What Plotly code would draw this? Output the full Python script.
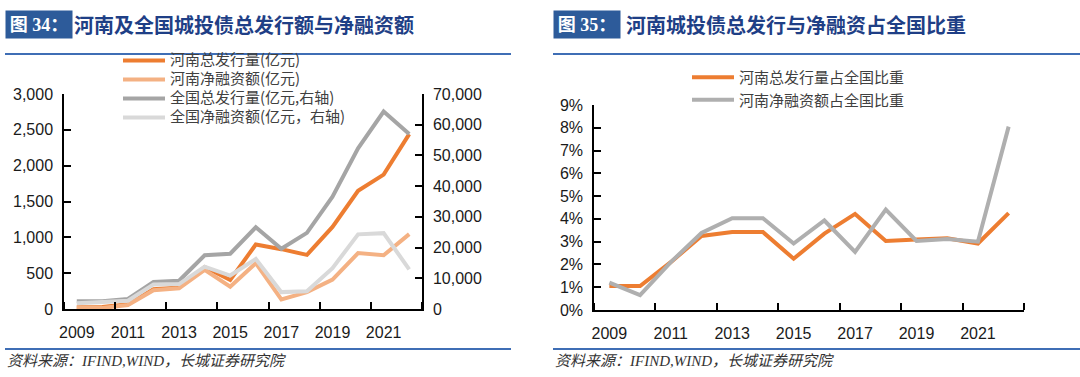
import plotly.graph_objects as go

years = list(range(2009, 2023))
xtick_years = [2009, 2011, 2013, 2015, 2017, 2019, 2021]

# 图34 (亿元)
henan_total = [25, 27, 65, 275, 300, 585, 405, 900, 835, 755, 1145, 1650, 1875, 2440]
henan_net = [22, 15, 55, 262, 290, 545, 310, 640, 135, 235, 410, 780, 750, 1045]
national_total = [2500, 2500, 3250, 8800, 9200, 17500, 18000, 26600, 19600, 24800, 36600, 52300, 64300, 57000]
national_net = [1900, 2300, 2700, 8000, 8100, 13800, 10900, 16300, 5500, 5800, 13300, 24300, 24700, 12900]

# 图35 (%)
henan_total_share = [1.05, 1.05, 2.1, 3.25, 3.42, 3.42, 2.25, 3.35, 4.22, 3.03, 3.1, 3.15, 2.92, 4.25]
henan_net_share = [1.2, 0.65, 2.1, 3.38, 4.03, 4.03, 2.92, 3.93, 2.55, 4.41, 3.03, 3.12, 3.0, 8.05]

W, H = 1080, 377
def px(x):
    return x / W
def py(y):
    return 1 - y / H

ORANGE = "#ED7D31"
PEACH = "#F4B183"
GRAY = "#A5A5A5"
LGRAY = "#D9D9D9"
TICKFONT = dict(family="Liberation Sans, Arial, sans-serif", size=16, color="#1a1a1a")

def leg(t, size):
    return f'<span style="font-size:{size}px">{t}</span>'

fig = go.Figure()
fig.add_trace(go.Scatter(x=years, y=henan_total, name=leg("河南总发行量(亿元)", 15), mode="lines",
                         line=dict(color=ORANGE, width=4), xaxis="x", yaxis="y", legend="legend"))
fig.add_trace(go.Scatter(x=years, y=henan_net, name=leg("河南净融资额(亿元)", 15), mode="lines",
                         line=dict(color=PEACH, width=4), xaxis="x", yaxis="y", legend="legend"))
fig.add_trace(go.Scatter(x=years, y=national_total, name=leg("全国总发行量(亿元,右轴)", 15), mode="lines",
                         line=dict(color=GRAY, width=4), xaxis="x", yaxis="y2", legend="legend"))
fig.add_trace(go.Scatter(x=years, y=national_net, name=leg("全国净融资额(亿元，右轴)", 15), mode="lines",
                         line=dict(color=LGRAY, width=4), xaxis="x", yaxis="y2", legend="legend"))

fig.add_trace(go.Scatter(x=years, y=henan_total_share, name="河南总发行量占全国比重", mode="lines",
                         line=dict(color=ORANGE, width=4), xaxis="x2", yaxis="y3", legend="legend2"))
fig.add_trace(go.Scatter(x=years, y=henan_net_share, name="河南净融资额占全国比重", mode="lines",
                         line=dict(color="#AFAFAF", width=4), xaxis="x2", yaxis="y3", legend="legend2"))

xcommon = dict(range=[2008.5, 2022.5], tickmode="array", tickvals=xtick_years,
               ticktext=[str(v) for v in xtick_years], ticks="", showgrid=False, zeroline=False,
               showline=True, linecolor="black", linewidth=1.5, tickfont=TICKFONT,
               ticklabelstandoff=8, automargin=False,
               minor=dict(ticks="inside", tick0=2008.5, dtick=2, ticklen=7, tickwidth=1.5,
                          tickcolor="black", showgrid=False))
ycommon = dict(showgrid=False, zeroline=False, showline=True, linecolor="black", linewidth=1.5,
               ticks="inside", ticklen=7, tickwidth=1.5, tickcolor="black", tickfont=TICKFONT,
               tickformat=",", ticklabelstandoff=6, automargin=False)

fig.update_layout(
    template="none",
    width=W, height=H, autosize=False,
    margin=dict(l=0, r=0, t=0, b=0, pad=0),
    paper_bgcolor="white", plot_bgcolor="white",
    xaxis=dict(domain=[px(64), px(422)], anchor="y", **xcommon),
    yaxis=dict(domain=[py(309), py(94)], range=[0, 3000], dtick=500, anchor="x", **ycommon),
    yaxis2=dict(overlaying="y", side="right", anchor="x", range=[0, 70000], dtick=10000, **ycommon),
    xaxis2=dict(domain=[px(594), px(1024)], anchor="y3", **xcommon),
    yaxis3=dict(domain=[py(310), py(105)], range=[0, 9], dtick=1, ticksuffix="%", anchor="x2",
                **{k: v for k, v in ycommon.items() if k != "tickformat"}),
    legend=dict(x=px(118), y=py(46), xanchor="left", yanchor="top", bgcolor="rgba(255,255,255,0)",
                font=dict(family="Noto Sans CJK SC", size=12, color="#404040"),
                itemwidth=42, borderwidth=0, tracegroupgap=0),
    legend2=dict(x=px(687), y=py(61), xanchor="left", yanchor="top", bgcolor="rgba(255,255,255,0)",
                 font=dict(family="Noto Sans CJK SC", size=15, color="#404040"),
                 itemwidth=42, borderwidth=0),
    showlegend=True,
)

BOX = "#2D5B9A"
NAVY = "#1F3F86"
LINEBLUE = "#3F6EB5"
titles = [
    (5, "图 34：", 73, "河南及全国城投债总发行额与净融资额"),
    (553, "图 35：", 625, "河南城投债总发行与净融资占全国比重"),
]
for bx, tag, tx, txt in titles:
    fig.add_annotation(x=px(bx), y=py(10), xref="paper", yref="paper", xanchor="left", yanchor="top",
                       text=f"<b>{tag}</b>", showarrow=False, bgcolor=BOX, width=60, height=21,
                       borderpad=3, align="center", valign="middle",
                       font=dict(family="Liberation Serif, Noto Sans CJK SC", size=18, color="white"))
    fig.add_annotation(x=px(tx), y=py(24), xref="paper", yref="paper", xanchor="left", yanchor="middle",
                       text=f"<b>{txt}</b>", showarrow=False, borderpad=0,
                       font=dict(family="Noto Sans CJK SC", size=20, color=NAVY))

for x0, x1 in [(5, 511), (553, 1080)]:
    for yy in (54, 349):
        fig.add_shape(type="line", xref="paper", yref="paper", x0=px(x0), x1=px(x1), y0=py(yy), y1=py(yy),
                      line=dict(color=LINEBLUE, width=2))

for sx in (5, 553):
    fig.add_annotation(x=px(sx), y=py(361), xref="paper", yref="paper", xanchor="left", yanchor="middle",
                       text="<i>资料来源：IFIND,WIND，长城证券研究院</i>", showarrow=False,
                       font=dict(family="Liberation Serif, Noto Sans CJK SC", size=15, color="#333333"))

fig.write_html("out.html", config={"displayModeBar": False},
               post_script="document.body.style.margin='0';document.body.style.padding='0';"
                           "document.body.style.overflow='hidden';")
